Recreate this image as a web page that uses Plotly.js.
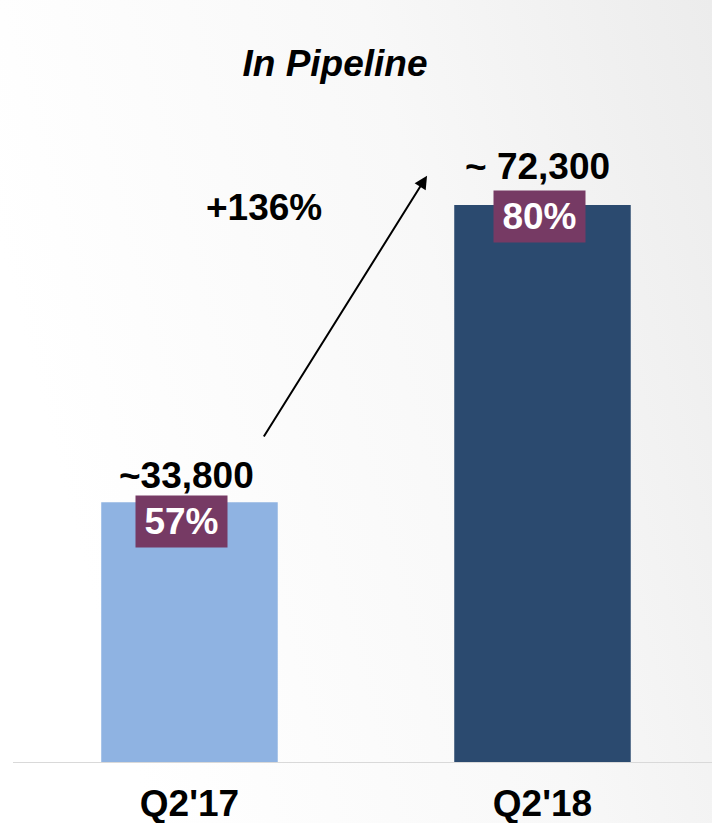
<!DOCTYPE html>
<html>
<head>
<meta charset="utf-8">
<script src="https://cdn.plot.ly/plotly-3.0.1.min.js"></script>
<style>html,body{margin:0;padding:0;background:#fff}#chart{width:712px;height:823px}</style>
</head>
<body>
<div id="chart"></div>
<script>
// Data
const categories = ["Q2'17", "Q2'18"];
const values = [33800, 72300];
const valueLabels = ["~33,800", "~ 72,300"];
const shareLabels = ["57%", "80%"];
const growthLabel = "+136%";
const titleText = "In Pipeline";

const barColors = ["#8FB3E2", "#2B4A6F"];
const FONT = "Liberation Sans, Arial, sans-serif";

const gradSvg = '<svg xmlns="http://www.w3.org/2000/svg" width="712" height="823">' +
  '<defs><linearGradient id="g" x1="0" y1="0.3" x2="1" y2="0">' +
  '<stop offset="0" stop-color="#ffffff"/><stop offset="0.55" stop-color="#f8f8f8"/><stop offset="1" stop-color="#ececec"/>' +
  '</linearGradient></defs><rect width="712" height="823" fill="url(#g)"/></svg>';
const bgSrc = 'data:image/svg+xml;base64,' + btoa(gradSvg);

const xIdx = categories.map((c, i) => i);

const trace = {
  type: 'bar',
  x: xIdx,
  y: values,
  width: 0.5,
  marker: {color: barColors},
  hoverinfo: 'skip'
};

const annotations = [];
// value labels above bars
const valShift = [4, 16];
const valXShift = [-3, -5];
values.forEach((v, i) => {
  annotations.push({
    x: xIdx[i], y: v, xref: 'x', yref: 'y',
    text: '<b>' + valueLabels[i] + '</b>', showarrow: false,
    yanchor: 'bottom', yshift: valShift[i], xshift: valXShift[i],
    font: {family: FONT, size: 37, color: '#000'}
  });
});
// share boxes
const boxShift = [7, 15];
const boxXShift = [-8, -3];
values.forEach((v, i) => {
  annotations.push({
    x: xIdx[i], y: v, xref: 'x', yref: 'y',
    text: '<b>' + shareLabels[i] + '</b>', showarrow: false,
    yanchor: 'top', yshift: boxShift[i], xshift: boxXShift[i],
    width: 91, height: 51, borderpad: 0, bgcolor: '#763A64',
    valign: 'middle', align: 'center',
    font: {family: FONT, size: 37, color: '#fff'}
  });
});
// growth arrow
annotations.push({
  x: 0.673, y: 76100, xref: 'x', yref: 'y',
  ax: 0.208, ay: 42100, axref: 'x', ayref: 'y',
  showarrow: true, arrowhead: 2, arrowsize: 1.3, arrowwidth: 2, arrowcolor: '#000', text: ''
});
annotations.push({
  x: 264 / 712, y: (763 - 207) / 763, xref: 'paper', yref: 'paper',
  xanchor: 'center', yanchor: 'middle', text: '<b>' + growthLabel + '</b>',
  showarrow: false, font: {family: FONT, size: 37, color: '#000'}
});

const layout = {
  width: 712, height: 823,
  margin: {l: 0, r: 0, t: 0, b: 60, pad: 0},
  paper_bgcolor: '#ffffff', plot_bgcolor: 'rgba(0,0,0,0)',
  showlegend: false,
  title: {
    text: '<b><i>' + titleText + '</i></b>',
    font: {family: FONT, size: 37, color: '#000'},
    x: 335 / 712, xanchor: 'center', y: 1 - 63 / 823, yanchor: 'middle'
  },
  xaxis: {
    range: [-0.5368, 1.4802], tickvals: xIdx, ticktext: categories.map(c => '<b>' + c + '</b>'),
    showgrid: false, zeroline: false, showline: false, ticks: '',
    tickfont: {family: FONT, size: 37, color: '#000'}, ticklabelstandoff: 15,
    fixedrange: true
  },
  yaxis: {
    range: [0, 98862], showgrid: false, zeroline: false, showline: false,
    showticklabels: false, ticks: '', fixedrange: true
  },
  shapes: [{
    type: 'line', xref: 'paper', yref: 'y', x0: 13 / 712, x1: 1, y0: 0, y1: 0,
    line: {color: '#d9d9d9', width: 2}, layer: 'above'
  }],
  images: [{
    source: bgSrc, xref: 'paper', yref: 'paper', x: 0, y: 1, sizex: 1, sizey: 823 / 763,
    xanchor: 'left', yanchor: 'top', sizing: 'stretch', layer: 'below'
  }],
  annotations: annotations
};

Plotly.newPlot('chart', [trace], layout, {displayModeBar: false, staticPlot: true});
</script>
</body>
</html>
